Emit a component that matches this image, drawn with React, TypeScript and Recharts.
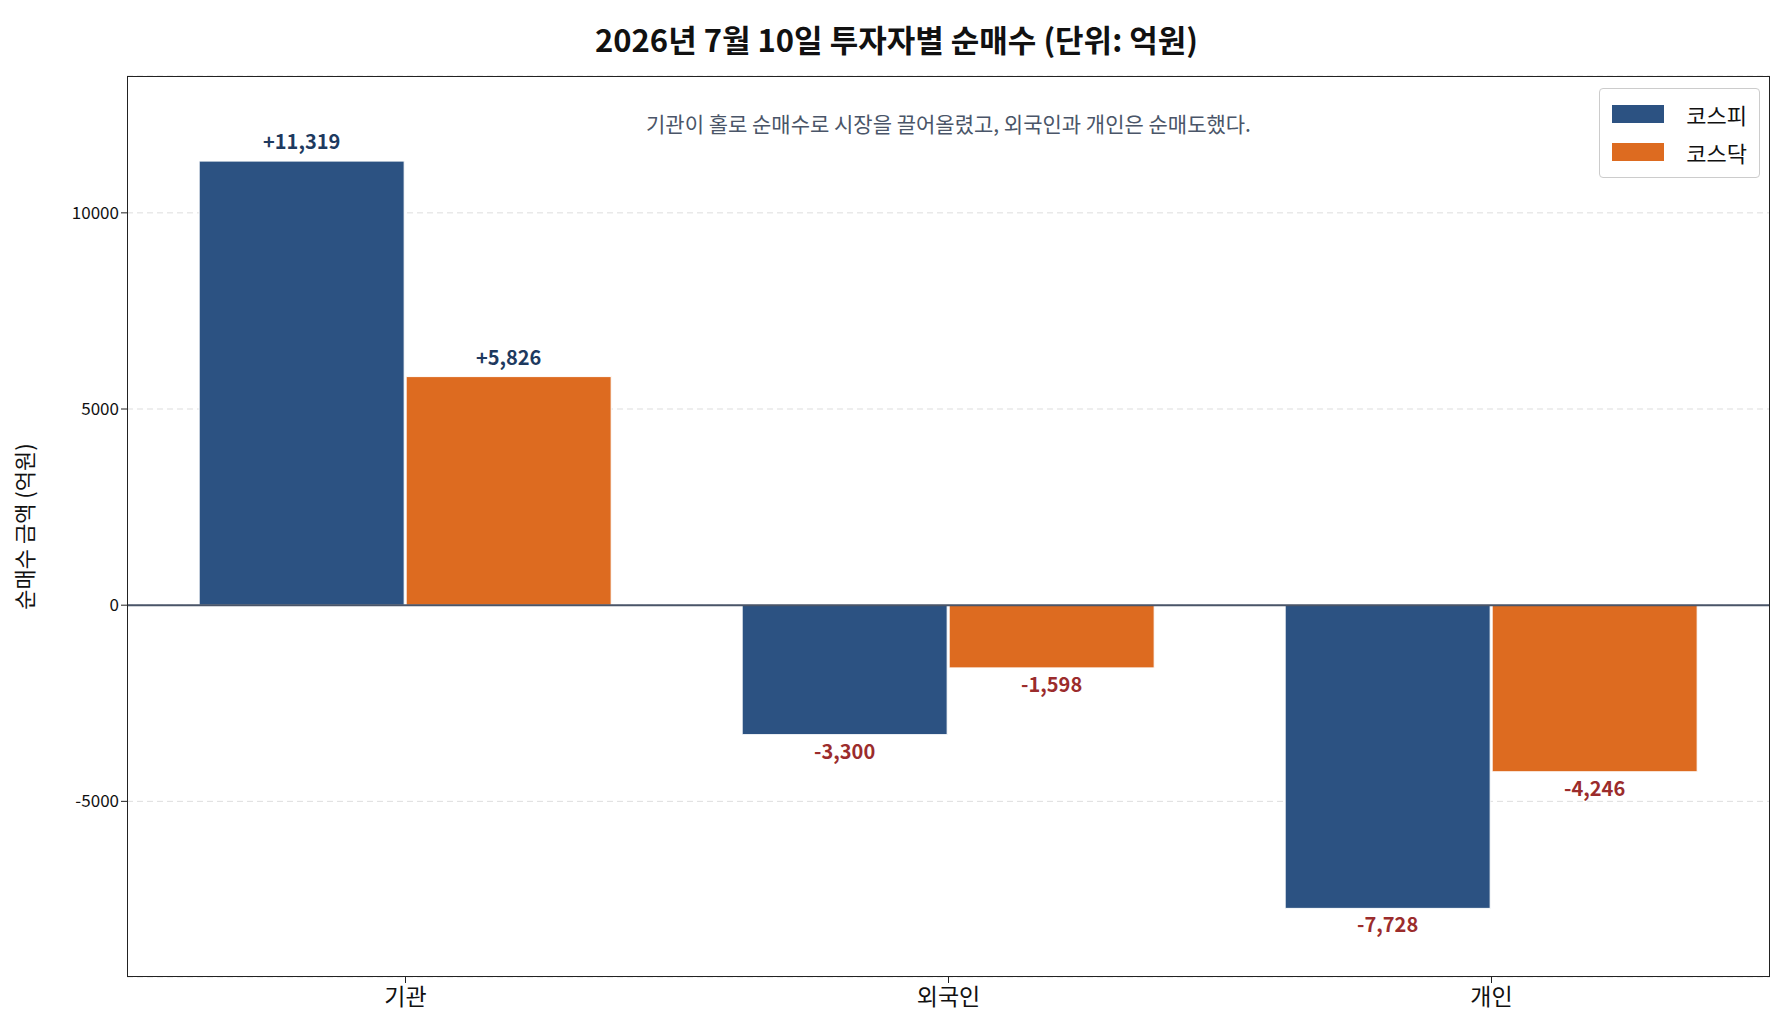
import React from 'react';
import { BarChart, Bar, XAxis, YAxis, CartesianGrid, ReferenceLine, LabelList } from 'recharts';

const categories = ['기관', '외국인', '개인'];
const kospi = [11319, -3300, -7728];
const kosdaq = [5826, -1598, -4246];
const yTicks = [-5000, 0, 5000, 10000];

const data = categories.map((c, i) => ({ name: c, kospi: kospi[i], kosdaq: kosdaq[i] }));
const FONT = '"Noto Sans CJK KR", "Noto Sans", sans-serif';

const fmt = (v: number) => (v > 0 ? '+' : '') + v.toLocaleString('en-US');

const ValLabel = (props: any) => {
  const { x, y, width, height, value } = props;
  const pos = value >= 0;
  const top = Math.min(y, y + height);
  const bot = Math.max(y, y + height);
  return (
    <text x={x + width / 2} y={pos ? top - 12 : bot + 24} textAnchor="middle"
      fontFamily={FONT} fontWeight="bold" fontSize={20} fill={pos ? '#1e3a5f' : '#9b2c2c'}>
      {fmt(value)}
    </text>
  );
};

export default function App() {
  return (
    <div style={{ position: 'relative', width: 1777, height: 1027, fontFamily: FONT }}>
      <div style={{ position: 'absolute', top: 8, left: 0, width: 1777, textAlign: 'center', fontSize: 31, fontWeight: 'bold', color: '#111' }}>
        2026년 7월 10일 투자자별 순매수 (단위: 억원)
      </div>
      <BarChart width={1777} height={1027} data={data} barGap={2} barCategoryGap="12%"
        margin={{ top: 68, right: 15, bottom: 18, left: 50 }}>
        <CartesianGrid vertical={false} stroke="#dddddd" strokeDasharray="6 4" />
        <XAxis dataKey="name" height={40} padding={{ left: 7, right: 7 }} tickLine={{ stroke: '#222' }} axisLine={false}
          tick={{ fontSize: 23, fill: '#111', fontFamily: FONT }} tickMargin={6} />
        <YAxis domain={[-9477, 13488]} ticks={yTicks} width={69} axisLine={false} tickLine={{ stroke: '#222' }}
          tick={{ fontSize: 17, fill: '#111', fontFamily: FONT }}
          label={{ value: '순매수 금액 (억원)', angle: -90, position: 'insideLeft', offset: -33, style: { fontSize: 22, fill: '#111', textAnchor: 'middle', fontFamily: FONT } }} />
        <ReferenceLine y={0} stroke="#4a5568" strokeWidth={2} />
        <Bar dataKey="kospi" fill="#2c5282" stroke="#fff" strokeWidth={1} isAnimationActive={false}>
          <LabelList dataKey="kospi" content={<ValLabel />} />
        </Bar>
        <Bar dataKey="kosdaq" fill="#dd6b20" stroke="#fff" strokeWidth={1} isAnimationActive={false}>
          <LabelList dataKey="kosdaq" content={<ValLabel />} />
        </Bar>
      </BarChart>
      <div style={{ position: 'absolute', left: 119, top: 68, width: 1643, height: 901, border: '1.5px solid #222', boxSizing: 'border-box', pointerEvents: 'none' }} />
      <div style={{ position: 'absolute', left: 119, top: 100, width: 1643, textAlign: 'center', fontSize: 21, color: '#4a5568' }}>
        기관이 홀로 순매수로 시장을 끌어올렸고, 외국인과 개인은 순매도했다.
      </div>
      <div style={{ position: 'absolute', right: 1777 - 1752, top: 80, background: '#fff', border: '1px solid #ccc', borderRadius: 4, padding: '6px 12px', fontSize: 22, color: '#111' }}>
        {[['코스피', '#2c5282'], ['코스닥', '#dd6b20']].map(([n, c]) => (
          <div key={n} style={{ display: 'flex', alignItems: 'center', height: 38 }}>
            <span style={{ display: 'inline-block', width: 52, height: 18, background: c, marginRight: 22 }} />{n}
          </div>
        ))}
      </div>
    </div>
  );
}
